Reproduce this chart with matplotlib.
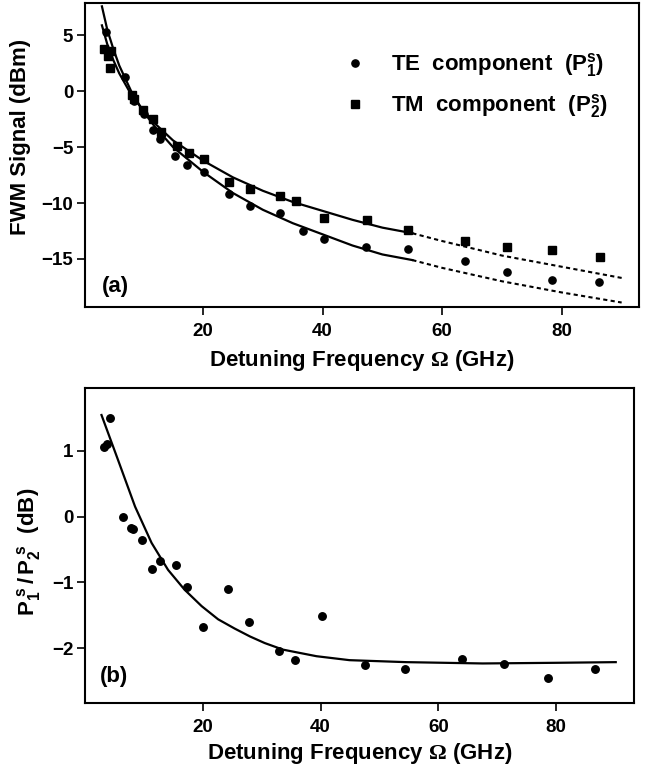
"""FWM signal vs detuning frequency, TE/TM components and their ratio."""

import matplotlib

matplotlib.use("Agg")
import matplotlib.pyplot as plt
from matplotlib.lines import Line2D

plt.rcParams["font.family"] = ["Liberation Sans", "DejaVu Sans"]
plt.rcParams["font.weight"] = "bold"
plt.rcParams["mathtext.fontset"] = "custom"
plt.rcParams["mathtext.rm"] = "Liberation Serif"
plt.rcParams["mathtext.bf"] = "Liberation Sans:bold"
plt.rcParams["mathtext.it"] = "Liberation Sans:bold"

# panel (a): measured points
te_x = [3.8, 4.1, 7.0, 8.5, 10.1, 11.6, 12.8, 15.4, 17.4, 20.2, 24.4, 27.9,
        32.9, 36.7, 40.3, 47.3, 54.2, 63.8, 70.9, 78.4, 86.2]
te_y = [5.3, 3.6, 1.3, -0.9, -2.0, -3.5, -4.3, -5.8, -6.6, -7.2, -9.2, -10.3,
        -10.9, -12.5, -13.2, -13.9, -14.1, -15.2, -16.2, -16.9, -17.1]
tm_x = [3.4, 4.1, 4.5, 4.7, 8.2, 8.5, 9.9, 11.6, 13.0, 15.6, 17.6, 20.2,
        24.4, 27.9, 32.9, 35.6, 40.3, 47.4, 54.3, 63.8, 70.9, 78.4, 86.3]
tm_y = [3.8, 3.2, 2.1, 3.6, -0.3, -0.7, -1.7, -2.5, -3.6, -4.9, -5.5, -6.1,
        -8.1, -8.7, -9.4, -9.8, -11.3, -11.5, -12.4, -13.4, -13.9, -14.2, -14.8]

# panel (a): fitted curves (solid where fitted, dashed extrapolation)
fit_x = [3.1, 4, 5, 6, 8, 10, 12, 15, 20, 25, 30, 35, 40, 45, 50, 55]
te_fit_y = [7.6, 5.5, 3.8, 2.3, 0.0, -1.8, -3.2, -5.0, -7.2, -9.1, -10.6,
            -11.8, -12.8, -13.8, -14.6, -15.1]
tm_fit_y = [5.9, 4.2, 2.8, 1.6, -0.3, -1.7, -2.9, -4.4, -6.2, -7.7, -8.9,
            -9.9, -10.7, -11.5, -12.2, -12.7]
ext_x = [55, 60, 70, 80, 90]
te_ext_y = [-15.1, -15.8, -17.0, -18.0, -18.9]
tm_ext_y = [-12.7, -13.4, -14.7, -15.7, -16.7]

# panel (b): ratio P1/P2 in dB
ratio_x = [3.3, 3.8, 4.2, 6.5, 7.8, 8.1, 9.7, 11.3, 12.8, 15.4, 17.3, 20.0,
           24.2, 27.8, 32.9, 35.6, 40.3, 47.6, 54.4, 64.0, 71.2, 78.6, 86.6]
ratio_y = [1.05, 1.10, 1.50, -0.01, -0.17, -0.19, -0.36, -0.79, -0.68, -0.73,
           -1.07, -1.68, -1.10, -1.60, -2.04, -2.18, -1.51, -2.26, -2.31,
           -2.16, -2.24, -2.45, -2.31]
ratio_fit_x = [2.8, 5.6, 8.5, 11.3, 14.1, 16.9, 19.8, 22.6, 25.4, 28.0, 30.5,
               33.6, 39.3, 44.9, 54.5, 67.5, 80.0, 90.1]
ratio_fit_y = [1.54, 0.86, 0.15, -0.40, -0.81, -1.11, -1.36, -1.56, -1.70,
               -1.82, -1.92, -2.02, -2.12, -2.18, -2.21, -2.23, -2.22, -2.21]

XLABEL = r"Detuning Frequency $\Omega$ (GHz)"


def style_axes(ax):
    for spine in ax.spines.values():
        spine.set_linewidth(1.5)
    ax.tick_params(direction="out", length=5.5, width=1.2, labelsize=13.5)
    ax.tick_params(axis="x", pad=6)
    ax.tick_params(axis="y", pad=3)
    ax.set_xticks([20, 40, 60, 80])


def main():
    fig = plt.figure(figsize=(6.46, 7.67), dpi=100)

    ax = fig.add_axes([85 / 646, 1 - 307 / 767, 554 / 646, 304 / 767])
    ax.plot(fit_x, te_fit_y, color="black", lw=1.6)
    ax.plot(fit_x, tm_fit_y, color="black", lw=1.6)
    ax.plot(ext_x, te_ext_y, color="black", lw=1.5, dashes=(2, 1.6))
    ax.plot(ext_x, tm_ext_y, color="black", lw=1.5, dashes=(2, 1.6))
    ax.plot(te_x, te_y, "o", color="black", ms=5.2)
    ax.plot(tm_x, tm_y, "s", color="black", ms=5.2)
    ax.set_xlim(0.27, 92.9)
    ax.set_ylim(-19.3, 7.9)
    ax.set_yticks([5, 0, -5, -10, -15])
    style_axes(ax)
    ax.set_xlabel(XLABEL, fontsize=16, fontweight="bold")
    ax.set_ylabel("FWM Signal (dBm)", fontsize=16, fontweight="bold")
    ax.xaxis.set_label_coords(0.5, -0.135)
    ax.yaxis.set_label_coords(-0.0975, 0.56)
    ax.text(0.03, 0.066, "(a)", transform=ax.transAxes, fontsize=16,
            fontweight="bold", va="center")
    handles = [
        Line2D([], [], ls="none", marker="o", color="black", ms=5.2),
        Line2D([], [], ls="none", marker="s", color="black", ms=5.2),
    ]
    labels = [r"TE  component  ($\mathbf{P_1^s}$)",
              r"TM  component  ($\mathbf{P_2^s}$)"]
    ax.legend(handles, labels, loc="upper left", bbox_to_anchor=(0.4675, 0.842),
              borderaxespad=0, borderpad=0, frameon=False,
              prop={"size": 16, "weight": "bold"},
              handletextpad=1.1, labelspacing=0.6, handlelength=1.0)

    ax = fig.add_axes([85 / 646, 1 - 703 / 767, 549 / 646, 315 / 767])
    ax.plot(ratio_fit_x, ratio_fit_y, color="black", lw=1.6)
    ax.plot(ratio_x, ratio_y, "o", color="black", ms=5.4)
    ax.set_xlim(0, 93.2)
    ax.set_ylim(-2.83, 1.95)
    ax.set_yticks([1, 0, -1, -2])
    style_axes(ax)
    ax.set_xlabel(XLABEL, fontsize=16, fontweight="bold")
    ax.set_ylabel(r"$\mathbf{P_1^{\ s}\,/\,P_2^{\ s}}$  (dB)", fontsize=16,
                  fontweight="bold")
    ax.xaxis.set_label_coords(0.5, -0.121)
    ax.yaxis.set_label_coords(-0.077, 0.479)
    ax.text(0.027, 0.083, "(b)", transform=ax.transAxes, fontsize=16,
            fontweight="bold", va="center")

    fig.savefig("out.png", dpi=100)


if __name__ == "__main__":
    main()
